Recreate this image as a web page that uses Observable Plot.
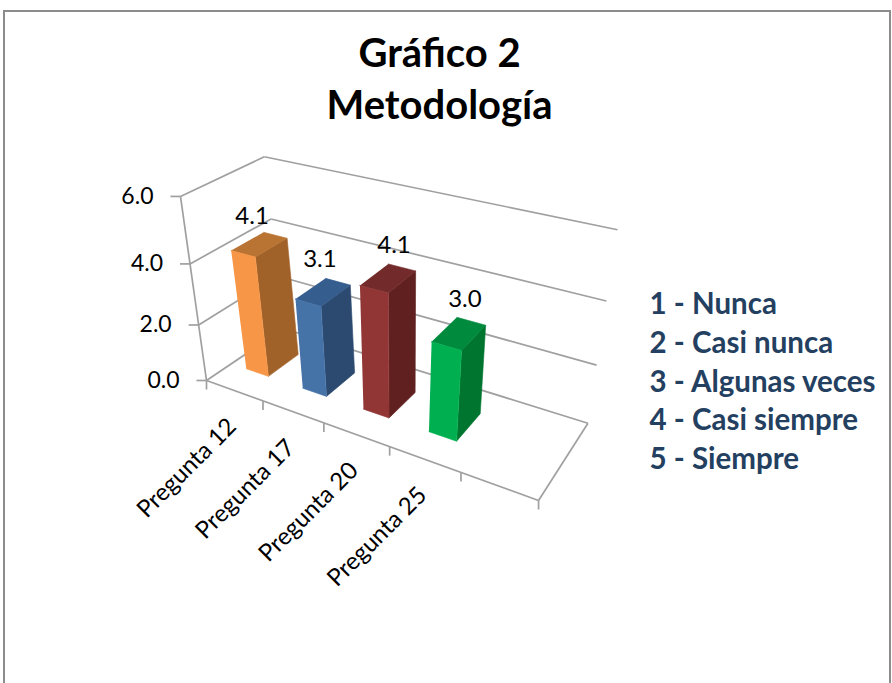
<!DOCTYPE html>
<html lang="es">
<head>
<meta charset="utf-8">
<title>Gráfico 2 Metodología</title>
<script src="https://cdn.jsdelivr.net/npm/d3@7"></script>
<script src="https://cdn.jsdelivr.net/npm/@observablehq/plot@0.6"></script>
<style>
  html, body { margin: 0; padding: 0; background: #fff; overflow: hidden; }
  #page { position: relative; width: 892px; height: 683px; overflow: hidden; }
  #frame { position: absolute; left: 3px; top: 10px; width: 884px; height: 700px; border: 2px solid #8c8c8c; box-sizing: content-box; }
  #titulo { margin: 0; padding-top: 14px; margin-left: -15px; font: 700 40px/52px Lato, sans-serif; text-align: center; color: #000; }
  #chart { position: absolute; left: 0; top: 135px; }
</style>
</head>
<body>
<div id="page">
  <div id="frame"><h2 id="titulo">Gráfico 2<br>Metodología</h2></div>
  <div id="chart"></div>
</div>
<script>
// Data
const preguntas = ["Pregunta 12", "Pregunta 17", "Pregunta 20", "Pregunta 25"];
const valores = [4.1, 3.1, 4.1, 3.0];
const escala = ["1 - Nunca", "2 - Casi nunca", "3 - Algunas veces", "4 - Casi siempre", "5 - Siempre"];
const marcasValor = [0, 2, 4, 6];
const coloresFrente = ["#F79646", "#4572A7", "#913535", "#00B050"];
const coloresLado = ["#A1622A", "#2C4A70", "#602020", "#00752F"];
const coloresTecho = ["#B97434", "#355D8E", "#722A2A", "#008A3E"];

// Chart configuration: 3D axes box with an empty fifth category slot
const nBandas = 5, maxValor = 6;
const anchoBarra = 0.4, fondoBarra = [0.3, 0.7], ajusteBarra = -0.005;
const W = 892, H = 548, TOP = 135;

// Perspective camera for (u along categories, v up, w into depth), each 0..1
const cam = {
  ox: 206, oy: 380,
  ux: 235.2, uy: 30, uw: -0.18,
  vx: -50.5, vy: -210.7, vw: -0.136,
  wx: 111, wy: -12.6, ww: 0.12,
  shearX: -7, shearY: -3
};
function proyectar(u, valor, w) {
  const v = valor / maxValor;
  const d = 1 + cam.uw * u + cam.vw * v + cam.ww * w;
  return {
    x: (cam.ox + cam.ux * u + cam.vx * v + cam.wx * w) / d + cam.shearX * v * Math.sqrt(w),
    y: (cam.oy + cam.uy * u + cam.vy * v + cam.wy * w) / d + cam.shearY * v * w
  };
}

// Axes box lines
const segmentos = [];
function seg(a, b) { segmentos.push({x1: a.x, y1: a.y, x2: b.x, y2: b.y}); }
for (const m of marcasValor) {
  seg(proyectar(0, m, 0), proyectar(0, m, 1));
  seg(proyectar(0, m, 1), proyectar(1, m, 1));
}
seg(proyectar(0, 0, 0), proyectar(0, maxValor, 0));
seg(proyectar(0, 0, 0), proyectar(1, 0, 0));
seg(proyectar(1, 0, 0), proyectar(1, 0, 1));

// Tick marks
const ticksValor = marcasValor.map(m => {
  const p = proyectar(0, m, 0);
  return {x1: p.x - 10, x2: p.x, y1: p.y, y2: p.y};
});
const ticksCat = d3.range(nBandas + 1).map(i => {
  const p = proyectar(i / nBandas, 0, 0);
  return {x1: p.x, x2: p.x, y1: p.y, y2: p.y + 9};
});
const textosValor = marcasValor.map(m => {
  const p = proyectar(0, m, 0);
  return {t: m.toFixed(1), x: p.x - 27, y: p.y};
});

// Bar faces
const caras = [];
function cara(id, color, pts) {
  pts.forEach(([u, v, w]) => caras.push({id, color, ...proyectar(u, v, w)}));
}
valores.forEach((val, i) => {
  const c = (i + 0.5) / nBandas + ajusteBarra, h = anchoBarra / nBandas / 2;
  const [u0, u1] = [c - h, c + h], [w0, w1] = fondoBarra;
  cara(`l${i}`, coloresLado[i], [[u1,0,w0],[u1,0,w1],[u1,val,w1],[u1,val,w0]]);
  cara(`t${i}`, coloresTecho[i], [[u0,val,w0],[u1,val,w0],[u1,val,w1],[u0,val,w1]]);
  cara(`f${i}`, coloresFrente[i], [[u0,0,w0],[u1,0,w0],[u1,val,w0],[u0,val,w0]]);
});

// Labels
const ajusteEtiqueta = [[-9, -28], [-5, -33], [4, -33], [4, -35]];
const etiquetas = valores.map((val, i) => {
  const p = proyectar((i + 0.5) / nBandas, val, 0.5);
  return {t: val.toFixed(1), x: p.x + ajusteEtiqueta[i][0], y: p.y + ajusteEtiqueta[i][1]};
});
const etiquetasCat = preguntas.map((t, i) => {
  const p = proyectar((i + 0.5) / nBandas, 0, 0);
  return {t, x: p.x - 2, y: p.y + 32};
});
const leyenda = escala.map((t, i) => ({t, x: 649, y: 304 + 38.8 * i}));

const font = "Lato, sans-serif";
const grid = "#a0a0a0";
const chart = Plot.plot({
  width: W, height: H, margin: 0,
  style: {background: "transparent"},
  x: {domain: [0, W], range: [0, W], axis: null},
  y: {domain: [TOP, TOP + H], range: [0, H], axis: null},
  color: {type: "identity"},
  marks: [
    Plot.link(segmentos, {x1: "x1", y1: "y1", x2: "x2", y2: "y2", stroke: grid, strokeWidth: 1.7}),
    Plot.link(ticksValor, {x1: "x1", y1: "y1", x2: "x2", y2: "y2", stroke: grid, strokeWidth: 1.7}),
    Plot.link(ticksCat, {x1: "x1", y1: "y1", x2: "x2", y2: "y2", stroke: grid, strokeWidth: 1.7}),
    Plot.line(caras, {x: "x", y: "y", z: "id", fill: "color", stroke: "color", strokeWidth: 0.6}),
    Plot.text(textosValor, {x: "x", y: "y", text: "t", textAnchor: "end", fontSize: 23, fontFamily: font, fill: "#000"}),
    Plot.text(etiquetas, {x: "x", y: "y", text: "t", fontSize: 24, fontFamily: font, fill: "#000"}),
    Plot.text(etiquetasCat, {x: "x", y: "y", text: "t", textAnchor: "end", rotate: -45, fontSize: 24, fontFamily: font, fill: "#000"}),
    Plot.text(leyenda, {x: "x", y: "y", text: "t", textAnchor: "start", fontSize: 29.5, fontWeight: 700, fontFamily: font, fill: "#244061"})
  ]
});
document.getElementById("chart").append(chart);
</script>
</body>
</html>
